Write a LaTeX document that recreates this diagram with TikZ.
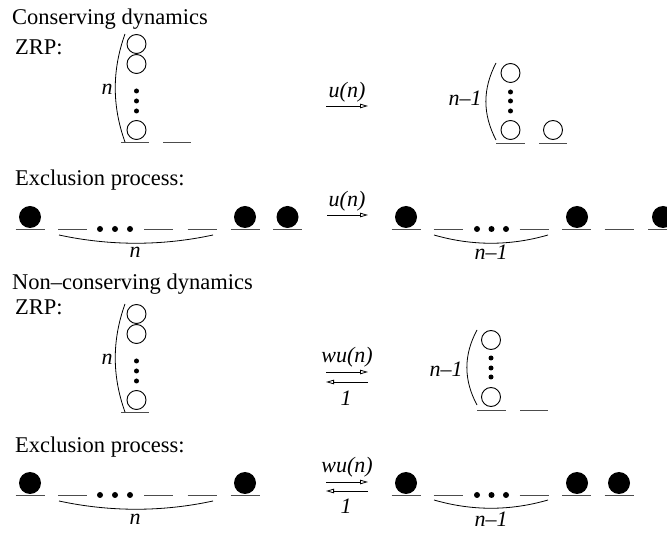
\documentclass[tikz,border=0pt]{standalone}
\usepackage{fontspec}
\setmainfont{Liberation Serif}
\usetikzlibrary{arrows.meta}
\tikzset{
  lbl/.style={font=\fontsize{22.5}{27}\selectfont, inner sep=0pt, anchor=base west},
  mlbl/.style={font=\fontsize{22}{26}\selectfont\itshape, inner sep=0pt, anchor=base},
  ocirc/.style={circle, draw, line width=0.9pt, minimum size=19pt, inner sep=0pt},
  fcirc/.style={circle, fill, minimum size=22pt, inner sep=0pt},
  zdot/.style={circle, fill, minimum size=5pt, inner sep=0pt},
  edot/.style={circle, fill, minimum size=6pt, inner sep=0pt},
  siteln/.style={line width=1pt, black!70},
  paren/.style={line width=0.8pt},
  harrow/.style={line width=0.8pt, -{Triangle[open, length=8pt, width=4.5pt]}},
}
\begin{document}
\begin{tikzpicture}[x=1pt,y=-1pt]
\useasboundingbox (0,0) rectangle (667,534);

% ---------- Conserving dynamics ----------
\node[lbl] (t1) at (12,25) {Conserving dynamics};
\node[lbl] (t2) at (15,55) {ZRP:};
% left ZRP
\node[ocirc] (c1a) at (136.5,44) {};
\node[ocirc] (c1b) at (136.5,64) {};
\node[zdot] (d1a) at (136.5,91) {};
\node[zdot] (d1b) at (136.5,101) {};
\node[zdot] (d1c) at (136.5,111) {};
\node[ocirc] (c1c) at (136.5,130) {};
\draw[siteln] (121,143) -- (149,143);
\draw[siteln] (163,143) -- (191,143);
\draw[paren] (125,34) .. controls (112,70) and (112,106) .. (125,142);
\node[mlbl] (n1) at (107,95) {n};
% arrow
\coordinate (a1s) at (326,106);
\coordinate (a1e) at (368,106);
\draw[harrow] (a1s) -- (a1e);
\node[mlbl] (l1) at (347,98) {u(n)};
% right ZRP
\node[mlbl] (n2) at (465,106) {n–1};
\draw[paren] (496,63) .. controls (482.5,89) and (482.5,114) .. (496,140);
\node[ocirc] (c2a) at (510.5,73) {};
\node[zdot] (d2a) at (510.5,92) {};
\node[zdot] (d2b) at (510.5,101) {};
\node[zdot] (d2c) at (510.5,111) {};
\node[ocirc] (c2b) at (510.5,130) {};
\node[ocirc] (c2c) at (553,130) {};
\draw[siteln] (496,144) -- (525,144);
\draw[siteln] (539,144) -- (567,144);

% exclusion process (conserving)
\node[lbl] (t3) at (15,186) {Exclusion process:};
\foreach \cx in {30,72.5,158.5,202,245,287.5}
  \draw[siteln] (\cx-14.5,230) -- (\cx+14.5,230);
\node[fcirc] (e1a) at (30,217) {};
\node[fcirc] (e1b) at (245,217) {};
\node[fcirc] (e1c) at (287.5,217) {};
\node[edot] (e1d) at (100,229) {};
\node[edot] (e1e) at (115,229) {};
\node[edot] (e1f) at (130,229) {};
\draw[paren] (59,235) .. controls (110,246) and (162,246) .. (213,235);
\node[mlbl] (n3) at (135,258) {n};
\coordinate (a2s) at (327,215);
\coordinate (a2e) at (368,215);
\draw[harrow] (a2s) -- (a2e);
\node[mlbl] (l2) at (347,207) {u(n)};
\foreach \cx in {406,448,534,576.5,619,662.5}
  \draw[siteln] (\cx-14.5,230) -- (\cx+14.5,230);
\node[fcirc] (e2a) at (406,217) {};
\node[fcirc] (e2b) at (577,217) {};
\node[fcirc] (e2c) at (663,217) {};
\node[edot] (e2d) at (477,229) {};
\node[edot] (e2e) at (491.5,229) {};
\node[edot] (e2f) at (506,229) {};
\draw[paren] (434,235) .. controls (472,246) and (510,246) .. (548,235);
\node[mlbl] (n4) at (491,260) {n–1};

% ---------- Non-conserving dynamics ----------
\node[lbl] (t4) at (12,290) {Non–conserving dynamics};
\node[lbl] (t5) at (15,315) {ZRP:};
\node[ocirc] (c3a) at (136.5,314) {};
\node[ocirc] (c3b) at (136.5,334) {};
\node[zdot] (d3a) at (136.5,361) {};
\node[zdot] (d3b) at (136.5,371) {};
\node[zdot] (d3c) at (136.5,381) {};
\node[ocirc] (c3c) at (136.5,400) {};
\draw[siteln] (121,413) -- (149,413);
\draw[paren] (125,304) .. controls (112,340) and (112,376) .. (125,412);
\node[mlbl] (n5) at (107,365) {n};
\coordinate (a3s) at (326,372);
\coordinate (a3e) at (368,372);
\coordinate (a4s) at (368,382);
\coordinate (a4e) at (326,382);
\draw[harrow] (a3s) -- (a3e);
\draw[harrow] (a4s) -- (a4e);
\node[mlbl] (l3) at (347,363) {wu(n)};
\node[mlbl] (l4) at (346,406) {1};
\node[mlbl] (n6) at (446,377) {n–1};
\draw[paren] (477,330) .. controls (463.5,355) and (463.5,380) .. (477,405);
\node[ocirc] (c4a) at (491,340) {};
\node[zdot] (d4a) at (491,358) {};
\node[zdot] (d4b) at (491,368) {};
\node[zdot] (d4c) at (491,377) {};
\node[ocirc] (c4b) at (491,397) {};
\draw[siteln] (477,411) -- (506,411);
\draw[siteln] (520,411) -- (548,411);

% exclusion process (non-conserving)
\node[lbl] (t6) at (15,453) {Exclusion process:};
\foreach \cx in {30,72.5,158.5,202,245}
  \draw[siteln] (\cx-14.5,496) -- (\cx+14.5,496);
\node[fcirc] (e3a) at (30,483) {};
\node[fcirc] (e3b) at (245,483) {};
\node[edot] (e3d) at (100,495) {};
\node[edot] (e3e) at (115,495) {};
\node[edot] (e3f) at (130,495) {};
\draw[paren] (59,501) .. controls (110,512) and (162,512) .. (213,501);
\node[mlbl] (n7) at (135,524) {n};
\coordinate (a5s) at (326,482);
\coordinate (a5e) at (368,482);
\coordinate (a6s) at (368,491);
\coordinate (a6e) at (326,491);
\draw[harrow] (a5s) -- (a5e);
\draw[harrow] (a6s) -- (a6e);
\node[mlbl] (l5) at (347,473) {wu(n)};
\node[mlbl] (l6) at (346,514) {1};
\foreach \cx in {406,448,534,576.5,619}
  \draw[siteln] (\cx-14.5,496) -- (\cx+14.5,496);
\node[fcirc] (e4a) at (406,483) {};
\node[fcirc] (e4b) at (577,483) {};
\node[fcirc] (e4c) at (619,483) {};
\node[edot] (e4d) at (477,495) {};
\node[edot] (e4e) at (491.5,495) {};
\node[edot] (e4f) at (506,495) {};
\draw[paren] (434,500) .. controls (472,511) and (510,511) .. (548,500);
\node[mlbl] (n8) at (491,526) {n–1};
\end{tikzpicture}
\end{document}
